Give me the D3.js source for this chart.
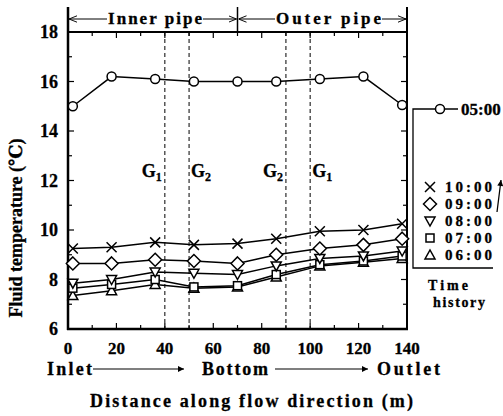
<!DOCTYPE html>
<html><head><meta charset="utf-8">
<script src="https://cdn.jsdelivr.net/npm/d3@7/dist/d3.min.js"></script>
<style>
body{margin:0;background:#fff;}
svg{display:block;}
text{font-family:"Liberation Serif","DejaVu Serif",serif;font-weight:bold;fill:#000;stroke:#000;stroke-width:0.3px;}
</style></head>
<body>
<svg id="c" width="503" height="416"></svg>
<script>
const distances = [2, 18, 36, 52, 70, 86, 104, 122, 138];
const t0500 = [15.0, 16.2, 16.1, 16.0, 16.0, 16.0, 16.1, 16.2, 15.05];
const t1000 = [9.25, 9.3, 9.5, 9.4, 9.45, 9.65, 9.95, 10.0, 10.25];
const t0900 = [8.65, 8.65, 8.8, 8.75, 8.65, 9.0, 9.25, 9.4, 9.65];
const t0800 = [7.85, 8.0, 8.3, 8.25, 8.2, 8.55, 8.85, 8.95, 9.15];
const t0700 = [7.65, 7.8, 8.0, 7.7, 7.75, 8.2, 8.6, 8.75, 8.95];
const t0600 = [7.35, 7.55, 7.8, 7.65, 7.7, 8.1, 8.55, 8.7, 8.85];
const seriesNames = ["05:00", "10:00", "09:00", "08:00", "07:00", "06:00"];
const seriesSymbols = ["circle", "cross", "diamond", "down", "square", "up"];
const xTicks = [0, 20, 40, 60, 80, 100, 120, 140];
const yTicks = [6, 8, 10, 12, 14, 16, 18];
const gapLines = [40, 50, 90, 100];
const gapLabels = [{x: 40, n: "1", side: "left"}, {x: 50, n: "2", side: "right"}, {x: 90, n: "2", side: "left"}, {x: 100, n: "1", side: "right"}];

const seriesValues = [t0500, t1000, t0900, t0800, t0700, t0600];
const svg = d3.select("#c");
const X = d3.scaleLinear().domain([0, 140]).range([68, 407]);
const Y = d3.scaleLinear().domain([6, 18]).range([329, 32]);

// dashed vertical lines
svg.selectAll(".gap").data(gapLines).enter().append("line")
  .attr("x1", d => X(d)).attr("x2", d => X(d)).attr("y1", Y(18)).attr("y2", Y(6))
  .attr("stroke", "#000").attr("stroke-width", 1).attr("stroke-dasharray", "4,3");

// G labels
gapLabels.forEach(g => {
  const t = svg.append("text").attr("font-size", 18).attr("y", 177)
    .attr("x", g.side === "left" ? X(g.x) - 3 : X(g.x) + 2)
    .attr("text-anchor", g.side === "left" ? "end" : "start");
  t.append("tspan").text("G");
  t.append("tspan").attr("font-size", 12).attr("dy", 4).text(g.n);
});

// ticks
const ax = svg.append("g");
d3.range(0, 141, 10).forEach(v => {
  const len = v % 20 === 0 ? 6 : 4;
  ax.append("line").attr("x1", X(v)).attr("x2", X(v)).attr("y1", Y(6)).attr("y2", Y(6) - len).attr("stroke", "#000").attr("stroke-width", 1.2);
  ax.append("line").attr("x1", X(v)).attr("x2", X(v)).attr("y1", Y(18)).attr("y2", Y(18) + len).attr("stroke", "#000").attr("stroke-width", 1.2);
});
d3.range(6, 18.01, 1).forEach(v => {
  const len = v % 2 === 0 ? 6 : 4;
  ax.append("line").attr("x1", X(0)).attr("x2", X(0) + len).attr("y1", Y(v)).attr("y2", Y(v)).attr("stroke", "#000").attr("stroke-width", 1.2);
  ax.append("line").attr("x1", X(140)).attr("x2", X(140) - len).attr("y1", Y(v)).attr("y2", Y(v)).attr("stroke", "#000").attr("stroke-width", 1.2);
});

// frame
svg.append("line").attr("x1", X(0)).attr("x2", X(0)).attr("y1", 7).attr("y2", Y(6) + 1).attr("stroke", "#000").attr("stroke-width", 2.5);
svg.append("line").attr("x1", X(0) - 1).attr("x2", X(140) + 1).attr("y1", Y(6)).attr("y2", Y(6)).attr("stroke", "#000").attr("stroke-width", 2.5);
svg.append("line").attr("x1", X(140)).attr("x2", X(140)).attr("y1", 7).attr("y2", Y(6)).attr("stroke", "#000").attr("stroke-width", 2);
svg.append("line").attr("x1", X(0)).attr("x2", X(140)).attr("y1", Y(18)).attr("y2", Y(18)).attr("stroke", "#000").attr("stroke-width", 2);
svg.append("line").attr("x1", X(70)).attr("x2", X(70)).attr("y1", 7).attr("y2", Y(18)).attr("stroke", "#000").attr("stroke-width", 1.5);

// tick labels
svg.selectAll(".yl").data(yTicks).enter().append("text")
  .attr("x", 58).attr("y", d => Y(d) + 6).attr("text-anchor", "end").attr("font-size", 18).text(d => d);
svg.selectAll(".xl").data(xTicks).enter().append("text")
  .attr("x", d => X(d)).attr("y", 354).attr("text-anchor", "middle").attr("font-size", 17).text(d => d);

// arrowhead marker defs
const defs = svg.append("defs");
defs.append("marker").attr("id", "ah").attr("viewBox", "0 0 10 10").attr("refX", 10).attr("refY", 5)
  .attr("markerWidth", 8).attr("markerHeight", 6).attr("markerUnits", "userSpaceOnUse").attr("orient", "auto")
  .append("path").attr("d", "M0,0 L10,5 L0,10 z").attr("fill", "#000");
defs.append("marker").attr("id", "op").attr("viewBox", "0 0 10 10").attr("refX", 10).attr("refY", 5)
  .attr("markerWidth", 8).attr("markerHeight", 8).attr("markerUnits", "userSpaceOnUse").attr("orient", "auto")
  .append("path").attr("d", "M0,1 L10,5 L0,9").attr("fill", "none").attr("stroke", "#000").attr("stroke-width", 1.2);

// top pipe annotations
function topArrow(x1, x2) {
  svg.append("line").attr("x1", x1).attr("x2", x2).attr("y1", 19).attr("y2", 19)
    .attr("stroke", "#000").attr("stroke-width", 1).attr("marker-end", "url(#op)");
}
topArrow(107, X(0) + 1); topArrow(203, X(70) - 1);
topArrow(275, X(70) + 1); topArrow(382, X(140) - 1);
svg.append("text").attr("x", 108).attr("y", 24).attr("font-size", 17).attr("textLength", 94).attr("lengthAdjust", "spacing").text("Inner pipe");
svg.append("text").attr("x", 276).attr("y", 24).attr("font-size", 17).attr("textLength", 105).attr("lengthAdjust", "spacing").text("Outer pipe");

// x sub-labels
svg.append("text").attr("x", 47).attr("y", 375).attr("font-size", 18).attr("textLength", 45).attr("lengthAdjust", "spacing").text("Inlet");
svg.append("text").attr("x", 202).attr("y", 375).attr("font-size", 18).attr("textLength", 66).attr("lengthAdjust", "spacing").text("Bottom");
svg.append("text").attr("x", 377).attr("y", 375).attr("font-size", 18).attr("textLength", 63).attr("lengthAdjust", "spacing").text("Outlet");
[[93, 184], [275, 368]].forEach(a => {
  svg.append("line").attr("x1", a[0]).attr("x2", a[1]).attr("y1", 369).attr("y2", 369)
    .attr("stroke", "#000").attr("stroke-width", 1.2).attr("marker-end", "url(#ah)");
});
svg.append("text").attr("x", 90).attr("y", 407).attr("font-size", 18).attr("textLength", 323).attr("lengthAdjust", "spacing").text("Distance along flow direction (m)");
svg.append("text").attr("transform", "translate(22,228) rotate(-90)").attr("text-anchor", "middle")
  .attr("font-size", 18).text("Fluid temperature (\u2103)");

// symbols
function drawSymbol(g, type, cx, cy) {
  const st = {stroke: "#000", "stroke-width": 1.5, fill: "#fff"};
  let el;
  if (type === "circle") el = g.append("circle").attr("cx", cx).attr("cy", cy).attr("r", 4.5);
  else if (type === "cross") el = g.append("path").attr("d", `M${cx-5},${cy-5}L${cx+5},${cy+5}M${cx-5},${cy+5}L${cx+5},${cy-5}`);
  else if (type === "diamond") el = g.append("path").attr("d", `M${cx},${cy-6.5}L${cx+6.5},${cy}L${cx},${cy+6.5}L${cx-6.5},${cy}Z`);
  else if (type === "down") el = g.append("path").attr("d", `M${cx-5},${cy-4}L${cx+5},${cy-4}L${cx},${cy+5}Z`);
  else if (type === "square") el = g.append("rect").attr("x", cx-4).attr("y", cy-4).attr("width", 8).attr("height", 8);
  else el = g.append("path").attr("d", `M${cx-5},${cy+4}L${cx+5},${cy+4}L${cx},${cy-5}Z`);
  Object.entries(st).forEach(([k, v]) => el.attr(k, v));
  if (type === "cross") el.attr("fill", "none");
}

const line = d3.line().x(d => X(d[0])).y(d => Y(d[1]));
const plot = svg.append("g");
seriesValues.forEach((vals, i) => {
  const pts = distances.map((d, j) => [d, vals[j]]);
  plot.append("path").attr("d", line(pts)).attr("fill", "none").attr("stroke", "#000").attr("stroke-width", 1.5);
});
seriesValues.slice().reverse().forEach((vals, ri) => {
  const i = seriesValues.length - 1 - ri;
  distances.forEach((d, j) => drawSymbol(plot, seriesSymbols[i], X(d), Y(vals[j])));
});

// legend
const lg = svg.append("g");
lg.append("path").attr("d", "M425,109 L413,109 L413,268 L493,268").attr("fill", "none").attr("stroke", "#000").attr("stroke-width", 1.3);
lg.append("line").attr("x1", 425).attr("x2", 458).attr("y1", 109).attr("y2", 109).attr("stroke", "#000").attr("stroke-width", 1.5);
drawSymbol(lg, "circle", 440, 109);
lg.append("text").attr("x", 461).attr("y", 115).attr("font-size", 17).text(seriesNames[0]);
const legY = [187, 204, 221, 238, 255];
seriesNames.slice(1).forEach((n, k) => {
  drawSymbol(lg, seriesSymbols[k + 1], 430, legY[k]);
  lg.append("text").attr("x", 445).attr("y", legY[k] + 5).attr("font-size", 15).attr("textLength", 47).attr("lengthAdjust", "spacing").text(n);
});
lg.append("line").attr("x1", 497).attr("x2", 501).attr("y1", 212).attr("y2", 180).attr("stroke", "#000").attr("stroke-width", 1.3).attr("marker-end", "url(#ah)");
lg.append("text").attr("x", 428).attr("y", 290).attr("font-family", "Liberation Sans, Arial, sans-serif").attr("font-size", 14).attr("textLength", 40).attr("lengthAdjust", "spacing").text("Time");
lg.append("text").attr("x", 433).attr("y", 307).attr("font-family", "Liberation Sans, Arial, sans-serif").attr("font-size", 14).attr("textLength", 52).attr("lengthAdjust", "spacing").text("history");
</script>
</body></html>
